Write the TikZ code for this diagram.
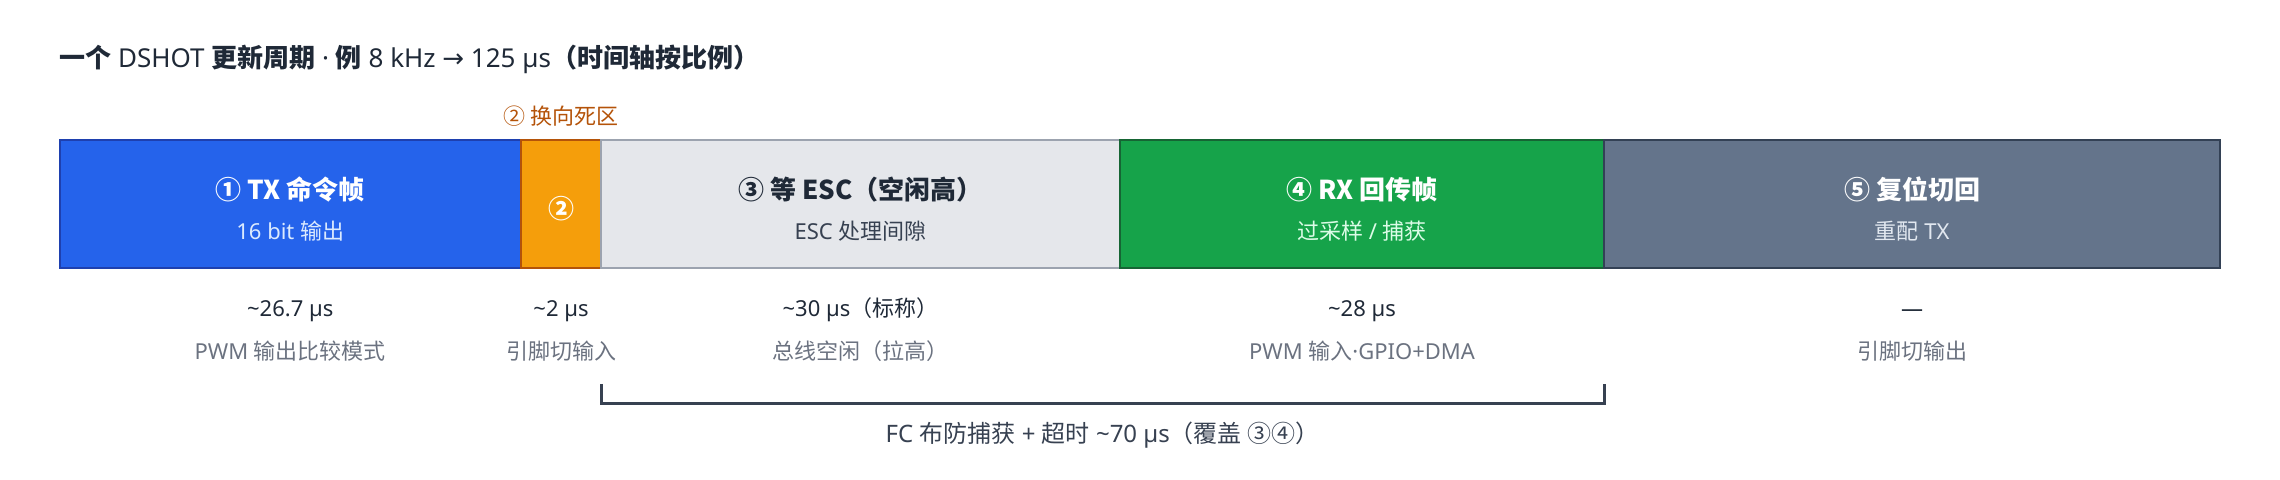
\documentclass[tikz,border=0pt]{standalone}
\usepackage{fontspec}
\setmainfont{Noto Sans}
\newfontfamily\cjk{Noto Sans CJK SC}
\newfontfamily\dv{DejaVu Sans}
\newcommand\zh[1]{{\cjk #1}}
\definecolor{txfill}{HTML}{2563EB}
\definecolor{txline}{HTML}{1E40AF}
\definecolor{dzfill}{HTML}{F59E0B}
\definecolor{dzline}{HTML}{B45309}
\definecolor{escfill}{HTML}{E5E7EB}
\definecolor{escline}{HTML}{9CA3AF}
\definecolor{rxfill}{HTML}{16A34A}
\definecolor{rxline}{HTML}{166534}
\definecolor{rsfill}{HTML}{64748B}
\definecolor{rsline}{HTML}{334155}
\definecolor{ink}{HTML}{1F2937}
\definecolor{inkmid}{HTML}{374151}
\definecolor{inklight}{HTML}{6B7280}
\definecolor{subblue}{HTML}{DBEAFE}
\definecolor{subgreen}{HTML}{DCFCE7}
\definecolor{subslate}{HTML}{E2E8F0}
\begin{document}
\begin{tikzpicture}[x=0.5pt,y=-0.5pt,
  seg/.style={rectangle, draw, line width=1pt, inner sep=0pt, outer sep=0pt, minimum height=64pt},
  ttl/.style={anchor=base west, inner sep=0pt, text=ink, font=\fontsize{13pt}{15pt}\selectfont},
  lbl/.style={anchor=base, inner sep=0pt, font=\cjk\fontsize{13pt}{15pt}\selectfont\bfseries},
  sub/.style={anchor=base, inner sep=0pt, font=\fontsize{11pt}{13pt}\selectfont},
  durtxt/.style={anchor=base, inner sep=0pt, text=ink, font=\fontsize{11pt}{13pt}\selectfont},
  modetxt/.style={anchor=base, inner sep=0pt, text=inklight, font=\fontsize{11pt}{13pt}\selectfont},
  bracket/.style={draw=inkmid, line width=1.5pt},
  brtxt/.style={anchor=base, inner sep=0pt, text=inkmid, font=\fontsize{12pt}{14pt}\selectfont}
]
\useasboundingbox (0,0) rectangle (2280,480);

% title
\node[ttl] (title) at (59,68) {\zh{\bfseries 一个} DSHOT \zh{\bfseries 更新周期} · \zh{\bfseries 例} 8 kHz {\dv →} 125 µs\zh{\bfseries （时间轴按比例）}};

% segments
\node[seg, fill=txfill, draw=txline, minimum width=230.75pt] (tx) at (290.25,204) {};
\node[seg, fill=dzfill, draw=dzline, minimum width=40pt] (dz) at (561,204) {};
\node[seg, fill=escfill, draw=escline, minimum width=259.5pt] (esc) at (860.5,204) {};
\node[seg, fill=rxfill, draw=rxline, minimum width=242pt] (rx) at (1362,204) {};
\node[seg, fill=rsfill, draw=rsline, minimum width=308pt] (rs) at (1912,204) {};

% dead zone label
\node[sub, text=dzline] (dzlabel) at (561,125) {\zh{② 换向死区}};

% segment texts
\node[lbl, text=white] (txt1) at (290.25,200) {① TX 命令帧};
\node[sub, text=subblue] (txs1) at (290.25,240) {16 bit \zh{输出}};
\node[lbl, text=white] (txt2) at (561,219) {②};
\node[lbl, text=ink] (txt3) at (860.5,200) {③ 等 ESC（空闲高）};
\node[sub, text=inkmid] (txs3) at (860.5,240) {ESC \zh{处理间隙}};
\node[lbl, text=white] (txt4) at (1362,200) {④ RX 回传帧};
\node[sub, text=subgreen] (txs4) at (1362,240) {\zh{过采样} / \zh{捕获}};
\node[lbl, text=white] (txt5) at (1912,200) {⑤ 复位切回};
\node[sub, text=subslate] (txs5) at (1912,240) {\zh{重配} TX};

% durations
\node[durtxt] (d1) at (290.25,317) {\textasciitilde26.7 µs};
\node[durtxt] (d2) at (561,317) {\textasciitilde2 µs};
\node[durtxt] (d3) at (860.5,317) {\textasciitilde30 µs\zh{（标称）}};
\node[durtxt] (d4) at (1362,317) {\textasciitilde28 µs};
\node[durtxt] (d5) at (1912,317) {—};

% modes
\node[modetxt] (m1) at (290.25,360) {PWM \zh{输出比较模式}};
\node[modetxt] (m2) at (561,360) {\zh{引脚切输入}};
\node[modetxt] (m3) at (860.5,360) {\zh{总线空闲（拉高）}};
\node[modetxt] (m4) at (1362,360) {PWM \zh{输入}·GPIO+DMA};
\node[modetxt] (m5) at (1912,360) {\zh{引脚切输出}};

% bracket
\coordinate (brL) at (601,384);
\coordinate (brR) at (1604,384);
\draw[bracket] (brL) -- ++(0,20) -| (brR);
\node[brtxt] (brlabel) at (1102.5,443) {FC \zh{布防捕获} + \zh{超时} \textasciitilde70 µs\zh{（覆盖 ③④）}};
\end{tikzpicture}
\end{document}
